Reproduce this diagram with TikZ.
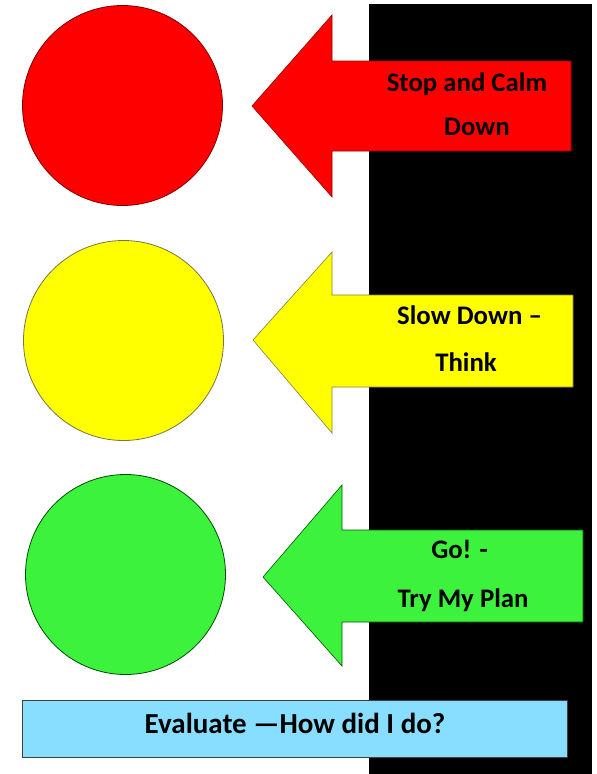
\documentclass[tikz,border=0pt]{standalone}
\usepackage{fontspec}
\setmainfont{Carlito}
\definecolor{tlred}{HTML}{FF0000}
\definecolor{tlyellow}{HTML}{FFFF00}
\definecolor{tlgreen}{HTML}{3CF23C}
\definecolor{evalblue}{HTML}{88DEFF}
\begin{document}
\begin{tikzpicture}[x=1pt,y=-1pt,
  lamp/.style={line width=0.8pt},
  arrowshape/.style={line width=0.6pt},
  lbl/.style={font=\fontsize{26.8}{30}\selectfont\bfseries, inner sep=0pt, anchor=base},
  evlbl/.style={font=\fontsize{29}{32}\selectfont\bfseries, inner sep=0pt, anchor=base},
  evalbox/.style={draw=black!75, line width=1pt, fill=evalblue}]
\useasboundingbox (0,0) rectangle (597,774);
\fill[white] (0,0) rectangle (597,774);
% black band
\fill[black] (369,4) rectangle (592,774);
% lamps
\draw[lamp, draw=red!50!black, fill=tlred] (122.5,105.5) circle (100);
\draw[lamp, draw=yellow!40!black, fill=tlyellow] (123.5,340.5) circle (100);
\draw[lamp, draw=green!30!black, fill=tlgreen] (125.5,574.5) circle (100);
% arrows
\draw[arrowshape, draw=red!60!black, fill=tlred]
  (252,106) -- (332,15) -- (332,61) -- (571,61) -- (571,151) -- (332,151) -- (332,197) -- cycle;
\draw[arrowshape, draw=yellow!45!black, fill=tlyellow]
  (253,340) -- (332,252) -- (332,295) -- (573,295) -- (573,387) -- (332,387) -- (332,433) -- cycle;
\draw[arrowshape, draw=green!35!black, fill=tlgreen]
  (263,577) -- (342,485) -- (342,530) -- (583,530) -- (583,622) -- (342,622) -- (342,666) -- cycle;
% labels
\node[lbl] (r1) at (467,91) {Stop and Calm};
\node[lbl] (r2) at (477,135) {Down};
\node[lbl] (y1) at (469.5,324) {Slow Down –};
\node[lbl] (y2) at (466,371) {Think};
\node[lbl] (g1) at (459.5,558) {Go! -};
\node[lbl] (g2) at (463,607) {Try My Plan};
% evaluate box
\draw[evalbox] (22,700) rectangle (567,757);
\node[evlbl] (ev) at (295,733) {Evaluate —How did I do?};
\end{tikzpicture}
\end{document}
